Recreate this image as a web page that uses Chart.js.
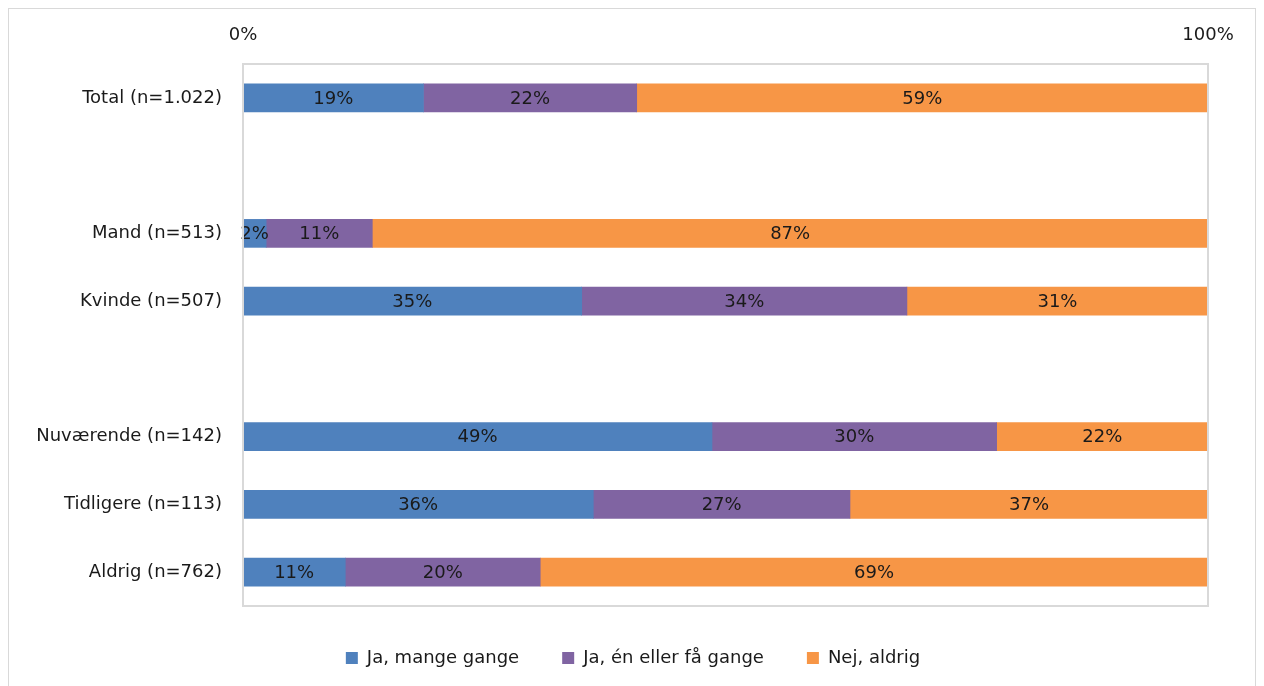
<!DOCTYPE html>
<html>
<head>
<meta charset="utf-8">
<script src="https://cdn.jsdelivr.net/npm/chart.js@4/dist/chart.umd.min.js"></script>
<style>
  body { margin: 0; background: #fff; }
  .wrap { position: relative; width: 1264px; height: 686px; overflow: hidden; }
  .frame { position: absolute; left: 8px; top: 8px; width: 1248px; height: 700px; border: 1px solid #d9d9d9; box-sizing: border-box; }
  canvas { position: absolute; left: 0; top: 0; }
</style>
</head>
<body>
<div class="wrap">
  <div class="frame"></div>
  <canvas id="myChart" width="1264" height="677"></canvas>
</div>
<script>
const categories = ['Total (n=1.022)', '', 'Mand (n=513)', 'Kvinde (n=507)', '', 'Nuværende (n=142)', 'Tidligere (n=113)', 'Aldrig (n=762)'];
const mangeGange = [18.7, null, 2.4, 35.1, null, 48.6, 36.3, 10.6];
const faaGange = [22.1, null, 11.0, 33.7, null, 29.5, 26.6, 20.2];
const aldrig = [59.2, null, 86.6, 31.2, null, 21.9, 37.1, 69.2];
const xTicks = [0, 100];

const font = "'DejaVu Sans', sans-serif";

// labels inside the bars + border round the plot area
const barLabels = {
    id: 'barLabels',
    afterLayout(chart) {
        // centre the legend on the whole canvas, not only on the plot
        if (chart.legend) chart.legend.right += 58;
    },
    afterDatasetsDraw(chart) {
        const ctx = chart.ctx;
        ctx.save();
        ctx.font = '18px ' + font;
        ctx.fillStyle = '#1a1a1a';
        ctx.textAlign = 'center';
        ctx.textBaseline = 'middle';
        chart.data.datasets.forEach((ds, i) => {
            chart.getDatasetMeta(i).data.forEach((bar, j) => {
                const v = ds.data[j];
                if (v == null) return;
                const x = (bar.x + bar.base) / 2;
                ctx.fillText(Math.round(v) + '%', x, bar.y + 1);
            });
        });
        const a = chart.chartArea;
        ctx.strokeStyle = '#d9d9d9';
        ctx.lineWidth = 2;
        ctx.strokeRect(a.left, a.top, a.right - a.left, a.bottom - a.top);
        ctx.restore();
    }
};

new Chart(document.getElementById('myChart'), {
    type: 'bar',
    data: {
        labels: categories,
        datasets: [
            { label: 'Ja, mange gange', data: mangeGange, backgroundColor: '#4F81BD' },
            { label: 'Ja, én eller få gange', data: faaGange, backgroundColor: '#8064A2' },
            { label: 'Nej, aldrig', data: aldrig, backgroundColor: '#F79646' }
        ]
    },
    options: {
        indexAxis: 'y',
        responsive: false,
        animation: false,
        datasets: { bar: { barThickness: 28 } },
        layout: { padding: { left: 0, right: 56, top: 0, bottom: 0 } },
        scales: {
            x: {
                position: 'top',
                stacked: true,
                min: 0,
                max: 100,
                afterBuildTicks: (axis) => { axis.ticks = xTicks.map(v => ({ value: v })); },
                ticks: {
                    callback: v => v + '%',
                    color: '#1a1a1a',
                    font: { family: font, size: 18 },
                    padding: 10,
                    maxRotation: 0
                },
                grid: { display: false },
                border: { display: false },
                afterFit: (s) => { s.height = 64; }
            },
            y: {
                stacked: true,
                ticks: {
                    color: '#1a1a1a',
                    font: { family: font, size: 18 },
                    padding: 13
                },
                grid: { display: false },
                border: { display: false },
                afterFit: (s) => { s.width = 243; }
            }
        },
        plugins: {
            legend: {
                position: 'bottom',
                labels: {
                    color: '#1a1a1a',
                    font: { family: font, size: 18 },
                    boxWidth: 12,
                    boxHeight: 12,
                    padding: 43
                }
            },
            tooltip: { enabled: false }
        }
    },
    plugins: [barLabels]
});
</script>
</body>
</html>
